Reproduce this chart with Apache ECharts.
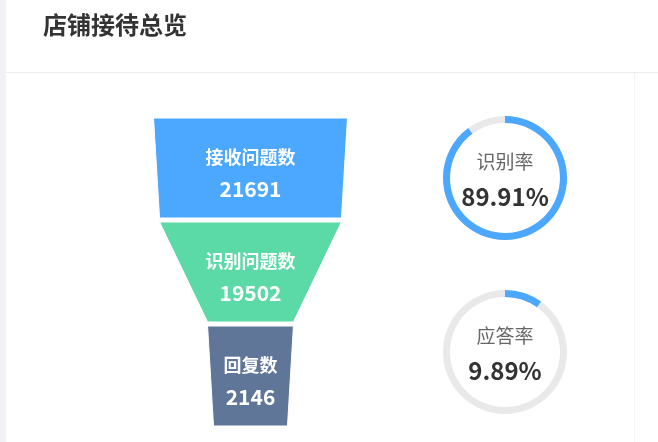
<!DOCTYPE html>
<html>
<head>
<meta charset="utf-8">
<script src="https://cdn.jsdelivr.net/npm/echarts@6/dist/echarts.min.js"></script>
<style>
  html, body { margin: 0; padding: 0; background: #fff; }
  #main { width: 658px; height: 442px; }
</style>
</head>
<body>
<div id="main"></div>
<script>
var funnelNames = ['接收问题数', '识别问题数', '回复数'];
var funnelValues = [21691, 19502, 2146];
var funnelColors = ['#4ca8fe', '#5bd9a6', '#5f7699'];

var rateNames = ['识别率', '应答率'];
var rateValues = [89.91, 9.89];

var myChart = echarts.init(document.getElementById('main'));

var font = '"Noto Sans CJK SC", "Noto Sans", sans-serif';

var funnelData = funnelNames.map(function (name, i) {
    return { name: name, value: funnelValues[i], itemStyle: { color: funnelColors[i] } };
});

// two rings on the right
var ringCenters = [[505, 178], [505, 352]];
var gauges = rateNames.map(function (name, i) {
    return {
        type: 'gauge',
        center: ringCenters[i],
        radius: 62,
        startAngle: 90,
        endAngle: -270,
        min: 0,
        max: 100,
        pointer: { show: false },
        progress: {
            show: true,
            width: 7,
            roundCap: false,
            itemStyle: { color: '#4ca8fe' }
        },
        axisLine: { lineStyle: { width: 7, color: [[1, '#e9e9e9']] } },
        axisTick: { show: false },
        splitLine: { show: false },
        axisLabel: { show: false },
        anchor: { show: false },
        title: {
            offsetCenter: [0, -16],
            fontSize: 19,
            color: '#666',
            fontFamily: font
        },
        detail: {
            offsetCenter: [0, 19],
            fontSize: 24,
            fontWeight: 'bold',
            color: '#333',
            fontFamily: font,
            formatter: function (v) { return v.toFixed(2) + '%'; }
        },
        data: [{ name: name, value: rateValues[i] }]
    };
});

var option = {
    animation: false,
    title: {
        text: '店铺接待总览',
        left: 38,
        top: 8,
        textStyle: { fontSize: 24, fontWeight: 'bold', color: '#333', fontFamily: font }
    },
    graphic: [
        { type: 'rect', shape: { x: 0, y: 0, width: 6, height: 442 }, style: { fill: '#f0f1f5' } },
        { type: 'line', shape: { x1: 6, y1: 72.5, x2: 658, y2: 72.5 }, style: { stroke: '#ececec', lineWidth: 1 } },
        { type: 'line', shape: { x1: 634.5, y1: 73, x2: 634.5, y2: 442 }, style: { stroke: '#f4f4f4', lineWidth: 1 } }
    ],
    series: [{
        type: 'funnel',
        left: 151,
        top: 118,
        width: 199,
        height: 308,
        min: 0,
        max: 21691,
        minSize: 74,
        maxSize: 194,
        sort: 'none',
        gap: 4,
        itemStyle: { borderColor: '#fff', borderWidth: 1 },
        label: {
            show: true,
            position: 'inside',
            padding: [10, 0, 0, 0],
            formatter: '{a|{b}}\n{b|{c}}',
            rich: {
                a: { fontSize: 18, fontWeight: 'bold', color: '#fff', lineHeight: 32, fontFamily: font },
                b: { fontSize: 21, fontWeight: 'bold', color: '#fff', lineHeight: 32, fontFamily: font }
            }
        },
        labelLine: { show: false },
        emphasis: { disabled: true },
        data: funnelData
    }].concat(gauges)
};

myChart.setOption(option);
</script>
</body>
</html>
